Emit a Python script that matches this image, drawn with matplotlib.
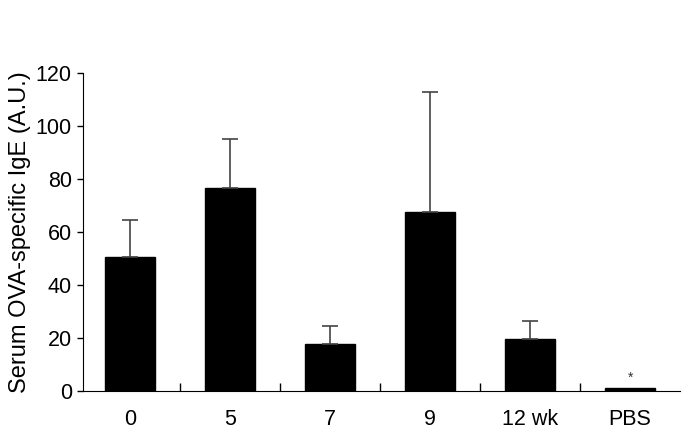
import numpy as np
import matplotlib.pyplot as plt

labels = ['0', '5', '7', '9', '12 wk', 'PBS']
means = [50.6, 76.6, 17.7, 67.5, 19.6, 1.0]
errs = [13.9, 18.4, 6.8, 45.3, 6.8, 0.0]

plt.rcParams['font.family'] = ['Liberation Sans', 'DejaVu Sans']

fig = plt.figure(figsize=(6.85, 4.34), dpi=100)
ax = fig.add_axes([0.121, 0.099, 0.872, 0.733])

x = np.arange(len(labels))
ax.bar(x, means, width=0.5, color='black', edgecolor='black')
ax.errorbar(x[:5], means[:5], yerr=[np.zeros(5), errs[:5]], fmt='none',
            ecolor='#444444', elinewidth=1.2, capsize=6, capthick=1.2)
ax.text(x[5], means[5] + 4, '*', ha='center', va='center', fontsize=10, color='#333333')

ax.set_xlim(-0.47, 5.5)
ax.set_ylim(0, 120)
ax.set_yticks(np.arange(0, 121, 20))
ax.set_xticks(x)
ax.set_xticklabels(labels)
ax.set_xticks(x[:-1] + 0.5, minor=True)
ax.tick_params(axis='x', which='major', length=0, pad=13, labelsize=15.5)
ax.tick_params(axis='x', which='minor', direction='in', length=6, width=1)
ax.tick_params(axis='y', direction='out', length=4, width=1, labelsize=15.5, pad=4)
ax.spines['top'].set_visible(False)
ax.spines['right'].set_visible(False)
ax.set_ylabel('Serum OVA-specific IgE (A.U.)', fontsize=17, labelpad=3)

fig.savefig('out.png', dpi=100)
